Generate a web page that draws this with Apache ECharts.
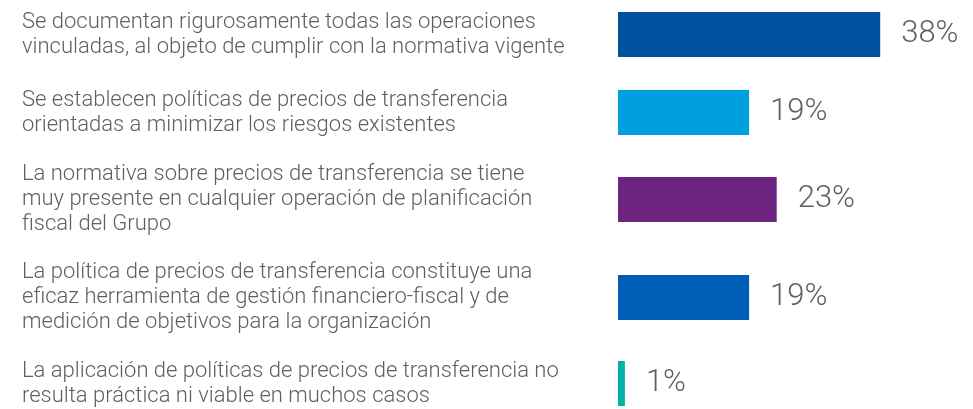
<!DOCTYPE html>
<html>
<head>
<meta charset="utf-8">
<script src="https://cdn.jsdelivr.net/npm/echarts@6/dist/echarts.min.js"></script>
<style>
  html, body { margin: 0; padding: 0; background: #ffffff; }
  #chart { width: 973px; height: 409px; }
</style>
</head>
<body>
<div id="chart"></div>
<script>
// Survey answers (one bar per statement)
const categories = [
  'Se documentan rigurosamente todas las operaciones\nvinculadas, al objeto de cumplir con la normativa vigente',
  'Se establecen políticas de precios de transferencia\norientadas a minimizar los riesgos existentes',
  'La normativa sobre precios de transferencia se tiene\nmuy presente en cualquier operación de planificación\nfiscal del Grupo',
  'La política de precios de transferencia constituye una\neficaz herramienta de gestión financiero-fiscal y de\nmedición de objetivos para la organización',
  'La aplicación de políticas de precios de transferencia no\nresulta práctica ni viable en muchos casos'
];
const values = [38, 19, 23, 19, 1];

// Styling and layout
const barColors = ['#00509D', '#009FDF', '#6D2380', '#005EB8', '#00B0A6'];
const rowTops = [12, 90, 177, 275, 361];
const rowHeight = 45;
const plotLeft = 618;
const plotWidth = 345;
const axisMax = 50;
const textColor = '#5f5f5f';
const fontFamily = 'Roboto, "Helvetica Neue", Arial, sans-serif';

const chart = echarts.init(document.getElementById('chart'), null, { renderer: 'canvas' });

const grid = [], xAxis = [], yAxis = [], series = [];
categories.forEach((cat, i) => {
  grid.push({
    left: plotLeft, width: plotWidth, top: rowTops[i], height: rowHeight,
    containLabel: false, outerBoundsMode: 'none'
  });
  xAxis.push({ gridIndex: i, type: 'value', min: 0, max: axisMax, show: false });
  yAxis.push({
    gridIndex: i,
    type: 'category',
    data: [cat],
    axisLine: { show: false },
    axisTick: { show: false },
    splitLine: { show: false },
    axisLabel: {
      align: 'left',
      margin: plotLeft - 22,
      color: textColor,
      fontFamily: fontFamily,
      fontWeight: 300,
      fontSize: 22,
      lineHeight: 25
    }
  });
  series.push({
    type: 'bar',
    xAxisIndex: i,
    yAxisIndex: i,
    data: [values[i]],
    barWidth: '100%',
    itemStyle: { color: barColors[i] },
    label: {
      show: true,
      position: 'right',
      distance: 21,
      formatter: '{c}%',
      color: textColor,
      fontFamily: fontFamily,
      fontWeight: 300,
      fontSize: 31
    },
    silent: true,
    animation: false
  });
});

chart.setOption({
  backgroundColor: '#ffffff',
  animation: false,
  grid: grid,
  xAxis: xAxis,
  yAxis: yAxis,
  series: series
});
</script>
</body>
</html>
